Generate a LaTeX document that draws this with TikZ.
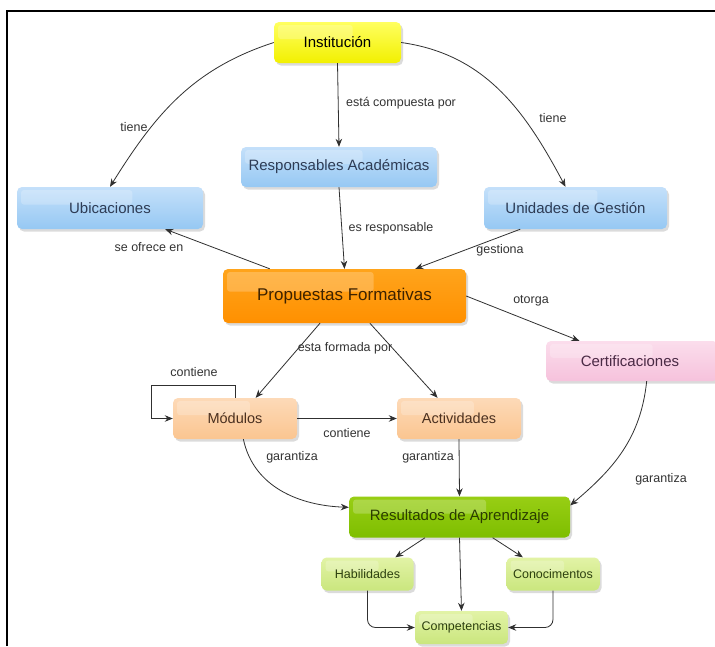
\documentclass[tikz,border=0pt]{standalone}
\usepackage{fontspec}
\setmainfont{Liberation Sans}
\usetikzlibrary{arrows.meta,shadows,calc}
\definecolor{ln}{HTML}{303030}
\definecolor{lblc}{HTML}{333333}
\definecolor{yT}{HTML}{FFFF60}\definecolor{yB}{HTML}{F2F000}
\definecolor{bT}{HTML}{C4E0FA}\definecolor{bB}{HTML}{96C8F3}\definecolor{bX}{HTML}{2E3C55}
\definecolor{oT}{HTML}{FFA41C}\definecolor{oB}{HTML}{FF9000}\definecolor{oX}{HTML}{3D2200}
\definecolor{pT}{HTML}{FBDDEC}\definecolor{pB}{HTML}{F6C2DC}\definecolor{pX}{HTML}{4A2A45}
\definecolor{cT}{HTML}{FDDAB8}\definecolor{cB}{HTML}{FBC590}\definecolor{cX}{HTML}{4A3020}
\definecolor{gT}{HTML}{98CE14}\definecolor{gB}{HTML}{7EBE00}\definecolor{gX}{HTML}{2B3D00}
\definecolor{lT}{HTML}{E2F3A6}\definecolor{lB}{HTML}{CAE67E}\definecolor{lX}{HTML}{2D4010}
\tikzset{
  gloss/.style={path picture={
    \coordinate (hA) at ([shift={(4pt,-3pt)}]path picture bounding box.north west);
    \coordinate (hB) at ($(path picture bounding box.north west)!0.62!(path picture bounding box.north east)$);
    \coordinate (hC) at ($(path picture bounding box.north west)!0.42!(path picture bounding box.south west)$);
    \fill[white, opacity=0.22, rounded corners=3pt] (hA) rectangle (hB |- hC);
  }},
  box/.style={rounded corners=5pt, draw=none, inner sep=0pt, gloss,
    drop shadow={opacity=0.28, shadow xshift=2pt, shadow yshift=-2.5pt},
    font=\fontsize{15}{17}\selectfont},
  yel/.style={box, top color=yT, bottom color=yB, text=black},
  blu/.style={box, top color=bT, bottom color=bB, text=bX},
  ora/.style={box, top color=oT, bottom color=oB, text=oX, font=\fontsize{17}{20}\selectfont},
  pnk/.style={box, top color=pT, bottom color=pB, text=pX},
  pch/.style={box, top color=cT, bottom color=cB, text=cX, font=\fontsize{14.5}{17}\selectfont},
  grn/.style={box, top color=gT, bottom color=gB, text=gX},
  lgr/.style={box, top color=lT, bottom color=lB, text=lX, font=\fontsize{12.5}{15}\selectfont},
  lbl/.style={inner sep=1pt, text=lblc, font=\fontsize{12.5}{14}\selectfont},
  arr/.style={draw=ln, line width=0.8pt, -{Stealth[length=8pt,width=6.5pt]}},
}
\begin{document}
\begin{tikzpicture}[x=1pt,y=-1pt]
\useasboundingbox (0,0) rectangle (715,646);
\fill[white] (0,0) rectangle (715,646);
\draw[line width=1.6pt] (7,646) -- (7,11) -- (715,11);

\node[yel, minimum width=127pt, minimum height=41pt] (inst) at (337.5,42.5) {Institución};
\node[blu, minimum width=196pt, minimum height=40pt] (resp) at (339,167) {Responsables Académicas};
\node[blu, minimum width=186pt, minimum height=42pt] (ubic) at (110,208) {Ubicaciones};
\node[blu, minimum width=183pt, minimum height=42pt] (unid) at (575.5,208) {Unidades de Gestión};
\node[ora, minimum width=243pt, minimum height=54pt] (prop) at (344.5,296) {Propuestas Formativas};
\node[pnk, minimum width=172pt, minimum height=40pt] (cert) at (632,361) {\hspace*{-4pt}Certificaciones};
\node[pch, minimum width=124pt, minimum height=41pt] (mod) at (235,418.5) {Módulos};
\node[pch, minimum width=124pt, minimum height=41pt] (act) at (459,418.5) {Actividades};
\node[grn, minimum width=221pt, minimum height=41pt] (res) at (459.5,517) {Resultados de Aprendizaje};
\node[lgr, minimum width=92pt, minimum height=33pt] (hab) at (367.5,574) {Habilidades};
\node[lgr, minimum width=93pt, minimum height=33pt] (con) at (553,574) {Conocimentos};
\node[lgr, minimum width=93pt, minimum height=33pt] (comp) at (461.5,627.5) {Competencias};

\coordinate (loopc) at (151,385);

\draw[arr] (inst.west) to[out=198, in=58] (ubic.north);
\draw[arr] (inst.south) -- (resp.north);
\draw[arr] (inst.east) to[out=-8, in=118] ([xshift=-10pt]unid.north);
\draw[arr] (resp.south) -- (prop.north);
\draw[arr] (prop.160) -- (ubic.-21);
\draw[arr] (unid.201) -- (prop.21);
\draw[arr] (prop.east) -- (cert.159);
\draw[arr] (prop.228) -- (mod.45);
\draw[arr] (prop.-47) -- (act.136);
\draw[arr] (mod.north) |- (loopc) |- (mod.west);
\draw[arr] (mod.east) -- (act.west);
\draw[arr] (mod.-68) to[out=-78, in=178] (res.175);
\draw[arr] (act.south) -- (res.north);
\draw[arr] (cert.-54) to[out=-96, in=40] (res.6);
\draw[arr] (res.211) -- (hab.31);
\draw[arr] (res.-32) -- (con.151);
\draw[arr] (res.south) -- (comp.north);
\draw[arr, rounded corners=8pt] (hab.south) |- (comp.west);
\draw[arr, rounded corners=8pt] (con.south) |- (comp.east);

\node[lbl] (l1) at (134,127) {tiene};
\node[lbl] (l2) at (401,103) {está compuesta por};
\node[lbl] (l3) at (553,118) {tiene};
\node[lbl] (l4) at (391,228) {es responsable};
\node[lbl] (l5) at (149,247) {se ofrece en};
\node[lbl] (l6) at (500,250) {gestiona};
\node[lbl] (l7) at (531,301) {otorga};
\node[lbl] (l8) at (345,348) {esta formada por};
\node[lbl] (l9) at (194,372) {contiene};
\node[lbl] (l10) at (347,433) {contiene};
\node[lbl] (l11) at (292,457) {garantiza};
\node[lbl] (l12) at (428,457) {garantiza};
\node[lbl] (l13) at (661,479) {garantiza};
\end{tikzpicture}
\end{document}
